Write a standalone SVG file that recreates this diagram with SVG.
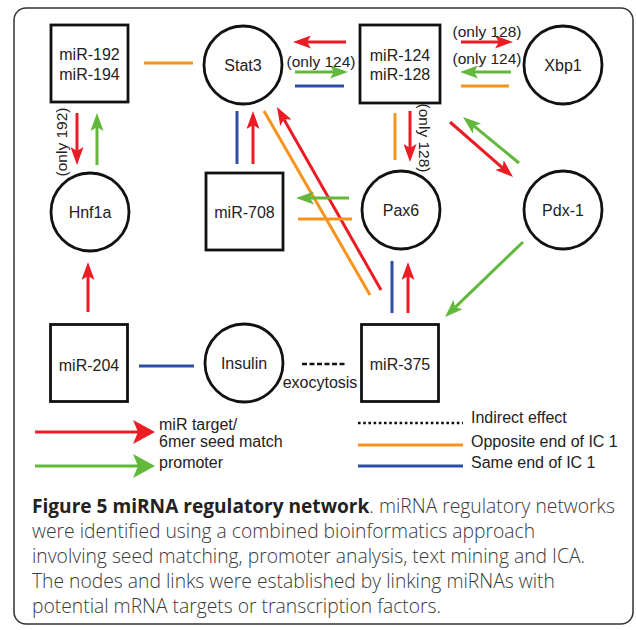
<svg xmlns="http://www.w3.org/2000/svg" width="636" height="630" viewBox="0 0 636 630">
<style>
.node{fill:#fff;stroke:#111;stroke-width:2.8}
.lbl{font-family:"Liberation Sans",Arial,sans-serif;font-size:16px;fill:#222;text-anchor:middle}
.small{font-family:"Liberation Sans",Arial,sans-serif;font-size:15.5px;fill:#222}
.leg{font-family:"Liberation Sans",Arial,sans-serif;font-size:16px;fill:#222}
.cap{font-family:"Open Sans","Liberation Sans",sans-serif;font-size:19.3px;fill:#3a3a3a;font-weight:300}
.capb{font-weight:700;fill:#222;font-size:19.1px}
.r{stroke:#ec1c24;stroke-width:3;fill:none}
.g{stroke:#62b83a;stroke-width:3;fill:none}
.b{stroke:#2e4ea5;stroke-width:3;fill:none}
.o{stroke:#f7941d;stroke-width:3;fill:none}
.dash{stroke:#111;stroke-width:2.5;stroke-dasharray:5 2.5;fill:none}
.dot{stroke:#111;stroke-width:2.5;stroke-dasharray:2.6 2.6;fill:none}
</style>
<defs>
<marker id="ar" markerUnits="userSpaceOnUse" markerWidth="18" markerHeight="13" refX="4" refY="6.5" orient="auto" viewBox="0 0 18 13"><path d="M0,0 L18,6.5 L0,13 L4,6.5 Z" fill="#ec1c24"/></marker>
<marker id="ag" markerUnits="userSpaceOnUse" markerWidth="18" markerHeight="13" refX="4" refY="6.5" orient="auto" viewBox="0 0 18 13"><path d="M0,0 L18,6.5 L0,13 L4,6.5 Z" fill="#62b83a"/></marker>
<marker id="lr" markerUnits="userSpaceOnUse" markerWidth="22" markerHeight="24" refX="5" refY="12" orient="auto" viewBox="0 0 22 24"><path d="M0,0 L22,12 L0,24 L5,12 Z" fill="#ec1c24"/></marker>
<marker id="lg" markerUnits="userSpaceOnUse" markerWidth="22" markerHeight="24" refX="5" refY="12" orient="auto" viewBox="0 0 22 24"><path d="M0,0 L22,12 L0,24 L5,12 Z" fill="#62b83a"/></marker>
</defs>
<rect x="14" y="8" width="619" height="616" rx="12" fill="#fff" stroke="#333" stroke-width="1.5"/>

<g id="connectors">
<line class="o" x1="144" y1="63" x2="193" y2="63"/>
<line class="r" x1="77" y1="113" x2="77" y2="151" marker-end="url(#ar)"/>
<line class="g" x1="97" y1="165" x2="97" y2="127" marker-end="url(#ag)"/>
<line class="r" x1="346" y1="42" x2="307" y2="42" marker-end="url(#ar)"/>
<line class="g" x1="295" y1="72" x2="334" y2="72" marker-end="url(#ag)"/>
<line class="b" x1="295" y1="86" x2="344" y2="86"/>
<line class="r" x1="461" y1="42" x2="499" y2="42" marker-end="url(#ar)"/>
<line class="g" x1="511" y1="72" x2="474" y2="72" marker-end="url(#ag)"/>
<line class="o" x1="461" y1="86" x2="509" y2="86"/>
<line class="o" x1="395" y1="113" x2="395" y2="160"/>
<line class="r" x1="410" y1="111" x2="410" y2="148" marker-end="url(#ar)"/>
<line class="r" x1="450" y1="122" x2="502.5" y2="167.8" marker-end="url(#ar)"/>
<line class="g" x1="519" y1="163" x2="473.8" y2="125.9" marker-end="url(#ag)"/>
<line class="g" x1="523" y1="242" x2="455.1" y2="307.3" marker-end="url(#ag)"/>
<line class="b" x1="237" y1="111" x2="237" y2="164"/>
<line class="r" x1="253" y1="164" x2="253" y2="125" marker-end="url(#ar)"/>
<line class="o" x1="264" y1="111" x2="370" y2="295"/>
<line class="r" x1="381" y1="290" x2="283.9" y2="119.2" marker-end="url(#ar)"/>
<line class="g" x1="349" y1="198" x2="310" y2="198" marker-end="url(#ag)"/>
<line class="o" x1="298" y1="219" x2="352" y2="219"/>
<line class="b" x1="392" y1="261" x2="392" y2="313"/>
<line class="r" x1="408" y1="313" x2="408" y2="276" marker-end="url(#ar)"/>
<line class="r" x1="88" y1="312" x2="88" y2="276" marker-end="url(#ar)"/>
<line class="b" x1="139" y1="366" x2="194" y2="366"/>
<line class="dash" x1="302" y1="364" x2="346" y2="364"/>
</g>

<g id="edge-labels">
<text class="small" text-anchor="middle" transform="translate(67,142) rotate(-90)">(only 192)</text>
<text class="small" text-anchor="middle" transform="translate(419,138) rotate(90)">(only 128)</text>
<text class="small" x="321" y="67" text-anchor="middle">(only 124)</text>
<text class="small" x="487" y="37" text-anchor="middle">(only 128)</text>
<text class="small" x="487" y="64" text-anchor="middle">(only 124)</text>
<text class="lbl" x="320" y="388">exocytosis</text>
</g>

<g id="mir192"><rect class="node" x="51" y="25" width="77" height="77"/><text class="lbl" x="89.5" y="60">miR-192</text><text class="lbl" x="89.5" y="80">miR-194</text></g>
<g id="stat3"><circle class="node" cx="243" cy="65" r="39"/><text class="lbl" x="243" y="71">Stat3</text></g>
<g id="mir124"><rect class="node" x="360" y="25" width="80" height="78"/><text class="lbl" x="400" y="61">miR-124</text><text class="lbl" x="400" y="80">miR-128</text></g>
<g id="xbp1"><circle class="node" cx="563" cy="65" r="39"/><text class="lbl" x="563" y="71">Xbp1</text></g>
<g id="hnf1a"><circle class="node" cx="90" cy="212" r="39"/><text class="lbl" x="90" y="218">Hnf1a</text></g>
<g id="mir708"><rect class="node" x="206" y="173" width="77" height="77"/><text class="lbl" x="244.5" y="218">miR-708</text></g>
<g id="pax6"><circle class="node" cx="401" cy="210" r="39"/><text class="lbl" x="401" y="216">Pax6</text></g>
<g id="pdx1"><circle class="node" cx="563" cy="210" r="39"/><text class="lbl" x="563" y="216">Pdx-1</text></g>
<g id="mir204"><rect class="node" x="50.5" y="324.5" width="77" height="77"/><text class="lbl" x="89" y="371">miR-204</text></g>
<g id="insulin"><circle class="node" cx="244" cy="363" r="39"/><text class="lbl" x="244" y="369">Insulin</text></g>
<g id="mir375"><rect class="node" x="361.5" y="324.5" width="77" height="77"/><text class="lbl" x="400" y="370">miR-375</text></g>

<g id="legend">
<line class="r" x1="35" y1="432" x2="138" y2="432" marker-end="url(#lr)"/>
<line class="g" x1="35" y1="466" x2="138" y2="466" marker-end="url(#lg)"/>
<text class="leg" x="159" y="430">miR target/</text>
<text class="leg" x="159" y="447">6mer seed match</text>
<text class="leg" x="159" y="468">promoter</text>
<line class="dot" x1="358" y1="423" x2="463" y2="423"/>
<line class="o" x1="358" y1="445" x2="463" y2="445"/>
<line class="b" x1="358" y1="466" x2="463" y2="466"/>
<text class="leg" x="471" y="423">Indirect effect</text>
<text class="leg" x="471" y="447">Opposite end of IC 1</text>
<text class="leg" x="471" y="468">Same end of IC 1</text>
</g>

<g id="caption">
<text class="cap" x="32" y="513"><tspan class="capb">Figure 5 miRNA regulatory network</tspan>. miRNA regulatory networks</text>
<text class="cap" x="32" y="538">were identified using a combined bioinformatics approach</text>
<text class="cap" x="32" y="563">involving seed matching, promoter analysis, text mining and ICA.</text>
<text class="cap" x="32" y="588">The nodes and links were established by linking miRNAs with</text>
<text class="cap" x="32" y="613">potential mRNA targets or transcription factors.</text>
</g>
</svg>
